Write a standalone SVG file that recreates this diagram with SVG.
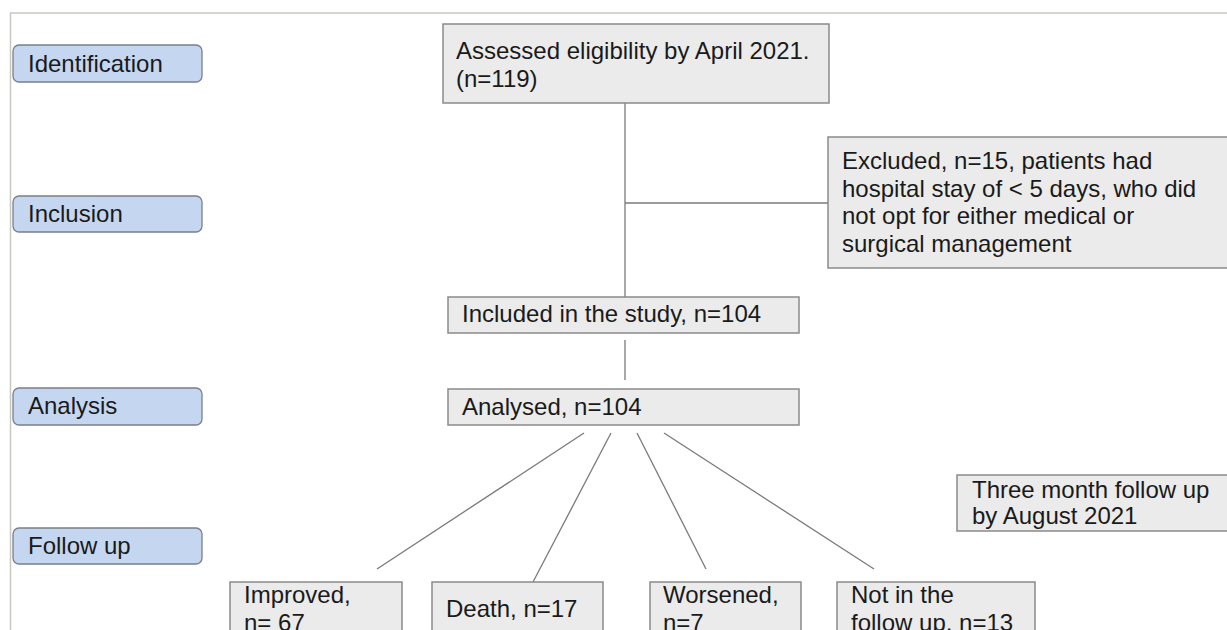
<svg xmlns="http://www.w3.org/2000/svg" width="1227" height="630" viewBox="0 0 1227 630">
<style>
.frame{fill:none;stroke:#c9c8c0;stroke-width:1.5}
.stage rect{fill:#c5d7f0;stroke:#7a7f88;stroke-width:1.3}
.box rect{fill:#ebebeb;stroke:#8a8a8a;stroke-width:1.5}
text{font-family:"Liberation Sans",Arial,sans-serif;font-size:24px;fill:#1a1a1a}
.conn line{stroke:#7a7a7a;stroke-width:1.3}
</style>
<rect width="1227" height="630" fill="#ffffff"/>
<path class="frame" d="M1227 13H10.5V630"/>
<g id="stage-identification" class="stage"><rect x="13" y="45" width="189" height="37" rx="6"/><text x="28" y="72">Identification</text></g>
<g id="stage-inclusion" class="stage"><rect x="13" y="196" width="189" height="36" rx="6"/><text x="28" y="222">Inclusion</text></g>
<g id="stage-analysis" class="stage"><rect x="13" y="388" width="189" height="37" rx="6"/><text x="28" y="414">Analysis</text></g>
<g id="stage-followup" class="stage"><rect x="13" y="528" width="189" height="36" rx="6"/><text x="28" y="554">Follow up</text></g>
<g class="conn" id="connectors">
<line x1="625" y1="103" x2="625" y2="297"/>
<line x1="625" y1="203" x2="828" y2="203"/>
<line x1="625" y1="340" x2="625" y2="380"/>
<line x1="584" y1="433" x2="377" y2="569"/>
<line x1="611" y1="433" x2="533" y2="582"/>
<line x1="637" y1="433" x2="706" y2="569"/>
<line x1="664" y1="433" x2="874" y2="569"/>
</g>
<g id="assessed" class="box"><rect x="443" y="24" width="386" height="79"/><text x="456" y="59">Assessed eligibility by April 2021.</text><text x="456" y="87">(n=119)</text></g>
<g id="excluded" class="box"><rect x="828" y="137" width="410" height="131"/><text x="842" y="169">Excluded, n=15, patients had</text><text x="842" y="197">hospital stay of &lt; 5 days, who did</text><text x="842" y="224">not opt for either medical or</text><text x="842" y="252">surgical management</text></g>
<g id="included" class="box"><rect x="448" y="297" width="351" height="36"/><text x="462" y="322">Included in the study, n=104</text></g>
<g id="analysed" class="box"><rect x="448" y="389" width="351" height="36"/><text x="462" y="415">Analysed, n=104</text></g>
<g id="threemonth" class="box"><rect x="957" y="475" width="280" height="56"/><text x="972" y="498">Three month follow up</text><text x="972" y="524">by August 2021</text></g>
<g id="improved" class="box"><rect x="230" y="582" width="172" height="60"/><text x="244" y="603">Improved,</text><text x="244" y="631">n= 67</text></g>
<g id="death" class="box"><rect x="432" y="582" width="171" height="60"/><text x="446" y="617">Death, n=17</text></g>
<g id="worsened" class="box"><rect x="650" y="582" width="151" height="60"/><text x="663" y="603">Worsened,</text><text x="663" y="631">n=7</text></g>
<g id="notfollow" class="box"><rect x="837" y="582" width="198" height="60"/><text x="851" y="603">Not in the</text><text x="851" y="631">follow up, n=13</text></g>
</svg>
